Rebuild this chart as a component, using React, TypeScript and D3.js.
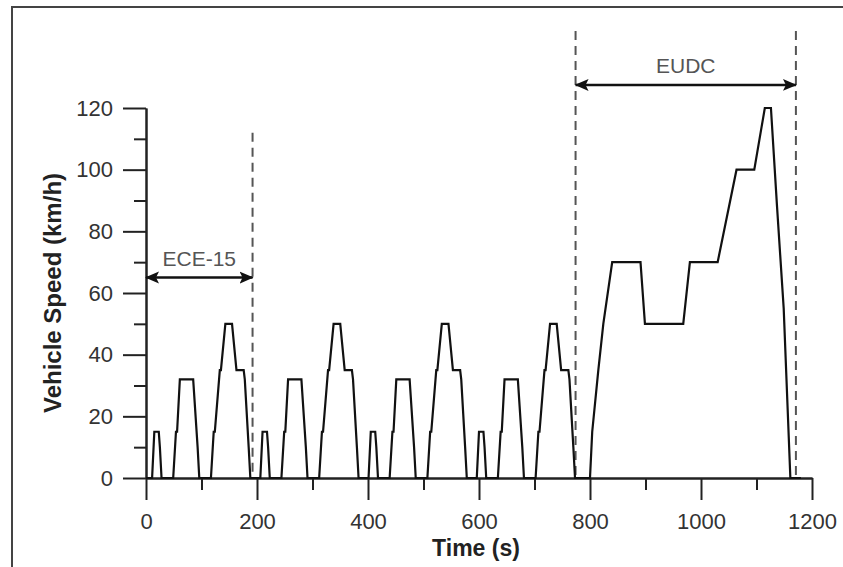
import { useRef, useEffect } from "react";
import * as d3 from "d3";

// NEDC speed trace: four ECE-15 urban cycles followed by one EUDC cycle
const timeS = [
  0, 11, 15, 23, 25, 28, 49, 54, 56, 61, 85, 93, 96, 117, 122, 124, 133, 135, 143, 155, 163, 176, 178, 185, 188,
  195, 206, 210, 218, 220, 223, 244, 249, 251, 256, 280, 288, 291, 312, 317, 319, 328, 330, 338, 350, 358, 371, 373, 380, 383,
  390, 401, 405, 413, 415, 418, 439, 444, 446, 451, 475, 483, 486, 507, 512, 514, 523, 525, 533, 545, 553, 566, 568, 575, 578,
  585, 596, 600, 608, 610, 613, 634, 639, 641, 646, 670, 678, 681, 702, 707, 709, 718, 720, 728, 740, 748, 761, 763, 770, 773,
  780, 800, 804, 815, 824, 840, 891, 899, 968, 980, 1030, 1064, 1096, 1115, 1126, 1137, 1149, 1161, 1180,
];
const speedKmh = [
  0, 0, 15, 15, 10, 0, 0, 15, 15, 32, 32, 10, 0, 0, 15, 15, 35, 35, 50, 50, 35, 35, 32, 10, 0,
  0, 0, 15, 15, 10, 0, 0, 15, 15, 32, 32, 10, 0, 0, 15, 15, 35, 35, 50, 50, 35, 35, 32, 10, 0,
  0, 0, 15, 15, 10, 0, 0, 15, 15, 32, 32, 10, 0, 0, 15, 15, 35, 35, 50, 50, 35, 35, 32, 10, 0,
  0, 0, 15, 15, 10, 0, 0, 15, 15, 32, 32, 10, 0, 0, 15, 15, 35, 35, 50, 50, 35, 35, 32, 10, 0,
  0, 0, 15, 35, 50, 70, 70, 50, 50, 70, 70, 100, 100, 120, 120, 88, 55, 0, 0,
];

const xMajorTicks = [0, 200, 400, 600, 800, 1000, 1200];
const xMinorTicks = [100, 300, 500, 700, 900, 1100];
const yMajorTicks = [0, 20, 40, 60, 80, 100, 120];
const yMinorTicks = [10, 30, 50, 70, 90, 110];

// phase boundaries (dashed) and their top ends in km/h
const boundaryTimes = [192, 774, 1171];
const boundaryTops = [112, 145, 145];

// phase annotations
const phaseNames = ["ECE-15", "EUDC"];
const phaseStart = [0, 774];
const phaseEnd = [192, 1171];
const phaseArrowSpeed = [65, 127.5];

export default function App() {
  const svgRef = useRef<SVGSVGElement>(null);

  const width = 843;
  const height = 567;
  const margin = { top: 108, right: 31, bottom: 89, left: 146 };

  useEffect(() => {
    if (!svgRef.current) return;
    const svg = d3.select(svgRef.current);
    svg.selectAll("*").remove();

    const font = "'Liberation Sans', Arial, sans-serif";

    const x = d3.scaleLinear().domain([0, 1200]).range([margin.left, width - margin.right]);
    const y = d3.scaleLinear().domain([0, 120]).range([height - margin.bottom, margin.top]);

    // outer frame (runs off the right and bottom of the picture)
    svg
      .append("path")
      .attr("d", `M12,${height + 5} L12,7 L${width + 5},7`)
      .attr("fill", "none")
      .attr("stroke", "#444")
      .attr("stroke-width", 2);

    const defs = svg.append("defs");
    defs
      .append("marker")
      .attr("id", "arrow-head")
      .attr("markerUnits", "userSpaceOnUse")
      .attr("viewBox", "0 -7 14 14")
      .attr("refX", 13)
      .attr("refY", 0)
      .attr("markerWidth", 14)
      .attr("markerHeight", 14)
      .attr("orient", "auto-start-reverse")
      .append("path")
      .attr("d", "M14,0 L0,-6 L3,0 L0,6 Z")
      .attr("fill", "#111");

    // axes: minor ticks first, then labelled major ticks
    const styleAxis = (g: d3.Selection<SVGGElement, unknown, null, undefined>) => {
      g.select(".domain").attr("stroke", "#222").attr("stroke-width", 2);
      g.selectAll(".tick line").attr("stroke", "#222").attr("stroke-width", 2);
      g.selectAll(".tick text")
        .attr("fill", "#333")
        .style("font-family", font)
        .style("font-size", "22px");
    };

    svg
      .append("g")
      .attr("transform", `translate(0,${y(0)})`)
      .call(d3.axisBottom(x).tickValues(xMinorTicks).tickSize(12).tickSizeOuter(0).tickFormat(() => ""))
      .call(styleAxis);
    svg
      .append("g")
      .attr("transform", `translate(0,${y(0)})`)
      .call(d3.axisBottom(x).tickValues(xMajorTicks).tickSize(22).tickSizeOuter(0).tickPadding(13).tickFormat(d3.format("d")))
      .call(styleAxis);

    svg
      .append("g")
      .attr("transform", `translate(${x(0)},0)`)
      .call(d3.axisLeft(y).tickValues(yMinorTicks).tickSize(12).tickSizeOuter(0).tickFormat(() => ""))
      .call(styleAxis);
    svg
      .append("g")
      .attr("transform", `translate(${x(0)},0)`)
      .call(d3.axisLeft(y).tickValues(yMajorTicks).tickSize(23).tickSizeOuter(0).tickPadding(10).tickFormat(d3.format("d")))
      .call(styleAxis);

    // axis titles
    svg
      .append("text")
      .attr("x", 476)
      .attr("y", 556)
      .attr("text-anchor", "middle")
      .attr("fill", "#222")
      .style("font-family", font)
      .style("font-size", "23px")
      .style("font-weight", "bold")
      .text("Time (s)");

    svg
      .append("text")
      .attr("transform", `translate(61,${(y(0) + y(120)) / 2}) rotate(-90)`)
      .attr("text-anchor", "middle")
      .attr("fill", "#222")
      .style("font-family", font)
      .style("font-size", "24px")
      .style("font-weight", "bold")
      .text("Vehicle Speed (km/h)");

    // phase boundaries
    boundaryTimes.forEach((t, i) => {
      svg
        .append("line")
        .attr("x1", x(t))
        .attr("x2", x(t))
        .attr("y1", y(boundaryTops[i]))
        .attr("y2", y(0))
        .attr("stroke", "#555")
        .attr("stroke-width", 2)
        .attr("stroke-dasharray", "9 6");
    });

    // speed trace
    const line = d3
      .line<number>()
      .x((_, i) => x(timeS[i]))
      .y((v) => y(v));

    svg
      .append("path")
      .datum(speedKmh)
      .attr("d", line)
      .attr("fill", "none")
      .attr("stroke", "#111")
      .attr("stroke-width", 2.2)
      .attr("stroke-linejoin", "miter");

    // phase arrows + names
    phaseNames.forEach((name, i) => {
      const ay = y(phaseArrowSpeed[i]);
      svg
        .append("line")
        .attr("x1", x(phaseStart[i]))
        .attr("x2", x(phaseEnd[i]))
        .attr("y1", ay)
        .attr("y2", ay)
        .attr("stroke", "#111")
        .attr("stroke-width", 2.5)
        .attr("marker-start", "url(#arrow-head)")
        .attr("marker-end", "url(#arrow-head)");

      svg
        .append("text")
        .attr("x", (x(phaseStart[i]) + x(phaseEnd[i])) / 2)
        .attr("y", ay - 12)
        .attr("text-anchor", "middle")
        .attr("fill", "#555")
        .style("font-family", font)
        .style("font-size", "21px")
        .text(name);
    });
  }, []);

  return (
    <div style={{ position: "absolute", left: 0, top: 0, width, height, background: "#fff" }}>
      <svg ref={svgRef} width={width} height={height} style={{ display: "block" }} />
    </div>
  );
}
